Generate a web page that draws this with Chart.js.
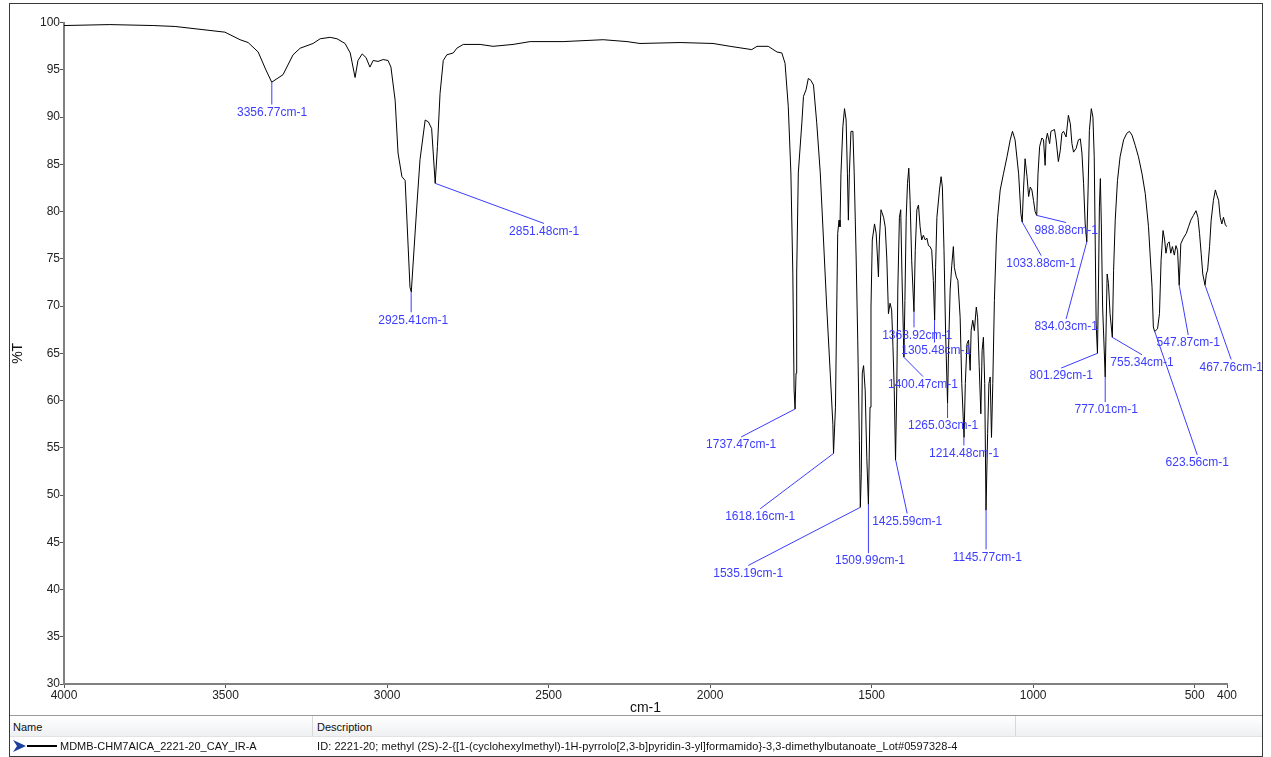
<!DOCTYPE html>
<html>
<head>
<meta charset="utf-8">
<title>IR spectrum</title>
<script src="https://cdn.jsdelivr.net/npm/chart.js@4.4.1/dist/chart.umd.min.js"></script>
<style>
  html, body { margin: 0; padding: 0; background: #fff; }
  body { width: 1271px; height: 757px; position: relative; overflow: hidden; font-family: "Liberation Sans", Arial, sans-serif; }
  #frame { position: absolute; left: 9px; top: 3px; width: 1254px; height: 754px; border: 1px solid #3a3a3a; box-sizing: border-box; }
  #wrap { position: absolute; left: 0; top: 0; width: 1271px; height: 716px; }
  #sep { position: absolute; left: 10px; top: 715px; width: 1252px; height: 1px; background: #9a9a9a; }
  #hdr { position: absolute; left: 10px; top: 716px; width: 1252px; height: 20px; background: linear-gradient(#ffffff, #eef0f2); border-bottom: 1px solid #e2e2e2; }
  .div { position: absolute; top: 716px; width: 1px; height: 20px; background: #d8d8d8; }
  .txt { position: absolute; font-size: 11px; color: #111; white-space: nowrap; line-height: 14px; }
  #line { position: absolute; left: 27px; top: 745px; width: 30px; height: 2px; background: #000; }
  #arrow { position: absolute; left: 13px; top: 740px; }
</style>
</head>
<body>
<div id="wrap"><canvas id="irChart" width="1271" height="716"></canvas></div>
<div id="sep"></div>
<div id="hdr"></div>
<div class="div" style="left:312px"></div>
<div class="div" style="left:1015px"></div>
<div class="txt" style="left:13px; top:720px;">Name</div>
<div class="txt" style="left:317px; top:720px;">Description</div>
<svg id="arrow" width="14" height="12" viewBox="0 0 14 12"><polygon points="0,0 13,6 0,12 4,6" fill="#1d3f9e"/></svg>
<div id="line"></div>
<div class="txt" style="left:60px; top:739px;">MDMB-CHM7AICA_2221-20_CAY_IR-A</div>
<div class="txt" style="left:317px; top:739px; letter-spacing:0.07px;">ID: 2221-20; methyl (2S)-2-{[1-(cyclohexylmethyl)-1H-pyrrolo[2,3-b]pyridin-3-yl]formamido}-3,3-dimethylbutanoate_Lot#0597328-4</div>
<div id="frame"></div>

<script>
// spectrum (cm-1, %T)
const wavenumber = [
  4000, 3858, 3724, 3656, 3579, 3502, 3455, 3430, 3399, 3375,
  3357, 3322, 3291, 3269, 3229, 3207, 3176, 3155, 3130, 3114,
  3099, 3090, 3077, 3065, 3053, 3043, 3028, 3012, 2997, 2988,
  2975, 2966, 2954, 2944, 2929, 2925, 2908, 2898, 2882, 2872,
  2862, 2851, 2844, 2836, 2826, 2815, 2795, 2784, 2764, 2712,
  2672, 2610, 2557, 2455, 2331, 2257, 2217, 2093, 1991, 1938,
  1871, 1855, 1820, 1793, 1778, 1768, 1758, 1750, 1744, 1740,
  1737, 1734, 1732, 1727, 1716, 1711, 1703, 1696, 1688, 1680,
  1670, 1659, 1649, 1639, 1628, 1620, 1618, 1612, 1608, 1605,
  1601, 1598, 1595, 1589, 1584, 1579, 1575, 1572, 1569, 1564,
  1558, 1554, 1548, 1543, 1538, 1535, 1532, 1529, 1525, 1520,
  1515, 1510, 1505, 1502, 1498, 1491, 1486, 1482, 1479, 1476,
  1471, 1463, 1458, 1453, 1448, 1443, 1438, 1434, 1430, 1426,
  1422, 1419, 1414, 1410, 1406, 1400, 1397, 1393, 1389, 1385,
  1381, 1376, 1369, 1365, 1360, 1355, 1350, 1345, 1340, 1334,
  1329, 1324, 1319, 1314, 1309, 1305, 1302, 1298, 1290, 1285,
  1281, 1276, 1271, 1265, 1262, 1257, 1252, 1247, 1244, 1238,
  1233, 1226, 1221, 1214, 1210, 1205, 1200, 1195, 1192, 1187,
  1182, 1176, 1172, 1167, 1162, 1158, 1154, 1150, 1146, 1141,
  1137, 1133, 1129, 1125, 1120, 1114, 1110, 1102, 1092, 1081,
  1071, 1064, 1056, 1045, 1038, 1034, 1030, 1025, 1019, 1014,
  1009, 1004, 999, 994, 989, 985, 980, 973, 968, 963,
  960, 956, 949, 945, 939, 934, 929, 922, 916, 911,
  906, 898, 891, 885, 880, 875, 867, 860, 854, 849,
  844, 839, 834, 830, 826, 820, 815, 811, 808, 805,
  801, 798, 795, 792, 789, 785, 777, 774, 771, 767,
  762, 755, 751, 746, 739, 731, 720, 710, 702, 694,
  684, 674, 663, 653, 643, 632, 628, 624, 615, 609,
  604, 598, 593, 589, 584, 579, 574, 569, 563, 558,
  553, 548, 543, 535, 526, 519, 512, 504, 496, 490,
  485, 480, 475, 468, 464, 460, 454, 449, 442, 436,
  431, 426, 421, 416, 411, 405, 400
];
const transmittance = [
  99.7, 99.8, 99.7, 99.6, 99.3, 99.0, 98.2, 97.9, 96.9, 95.0,
  93.7, 94.5, 96.6, 97.3, 97.8, 98.3, 98.45, 98.3, 97.8, 96.8,
  94.2, 96.0, 96.7, 96.3, 95.3, 96.0, 95.9, 96.1, 96.0, 95.3,
  91.8, 86.2, 83.7, 83.3, 72.0, 71.5, 80.5, 85.5, 89.7, 89.5,
  88.8, 83.0, 86.9, 92.5, 96.0, 96.6, 96.8, 97.3, 97.7, 97.7,
  97.5, 97.7, 98.0, 98.0, 98.2, 98.0, 97.8, 97.9, 97.8, 97.5,
  97.15, 97.5, 97.5, 96.9, 96.8, 95.7, 91.1, 84.1, 73.5, 61.1,
  59.1, 62.9, 73.5, 84.1, 89.4, 92.2, 92.9, 94.1, 93.9, 93.4,
  89.4, 84.1, 77.0, 69.9, 62.8, 57.5, 54.4, 59.3, 69.9, 77.7,
  79.1, 78.4, 84.0, 89.0, 90.9, 89.7, 84.0, 79.1, 84.0, 88.5,
  88.5, 84.1, 75.2, 66.4, 55.8, 48.7, 52.3, 62.9, 63.7, 61.1,
  54.0, 49.0, 59.3, 69.9, 77.0, 78.7, 77.7, 75.2, 73.1, 77.0,
  80.2, 79.4, 78.4, 75.0, 69.2, 70.3, 69.6, 65.7, 61.1, 53.7,
  61.8, 71.7, 79.4, 80.2, 73.1, 64.6, 70.6, 79.4, 83.0, 84.6,
  81.2, 74.8, 69.4, 75.9, 80.2, 80.7, 78.4, 77.0, 77.5, 77.0,
  77.2, 76.4, 76.3, 75.9, 72.7, 68.5, 74.1, 79.4, 82.3, 83.7,
  82.6, 75.9, 67.1, 59.7, 65.3, 71.7, 74.3, 76.3, 74.1, 73.1,
  72.7, 68.8, 61.8, 56.1, 61.8, 66.0, 66.4, 63.2, 67.4, 68.5,
  67.4, 69.9, 68.8, 63.6, 58.6, 65.3, 66.7, 61.8, 48.4, 56.5,
  61.8, 62.5, 56.1, 61.8, 70.6, 77.0, 79.4, 82.3, 84.0, 85.8,
  87.6, 88.5, 87.6, 84.0, 79.8, 78.9, 82.3, 85.6, 83.7, 81.6,
  82.6, 82.3, 81.2, 80.0, 79.6, 84.0, 86.9, 87.8, 87.6, 84.9,
  87.6, 88.3, 87.2, 88.5, 88.6, 88.7, 87.6, 85.3, 86.5, 88.3,
  88.5, 87.9, 90.2, 89.3, 87.2, 86.3, 86.7, 87.6, 87.7, 86.2,
  83.0, 78.7, 76.8, 82.3, 88.6, 90.9, 90.0, 85.8, 77.0, 68.1,
  65.0, 71.7, 80.5, 83.5, 78.7, 69.9, 62.5, 68.1, 73.4, 72.4,
  69.2, 66.7, 73.8, 79.1, 83.3, 85.8, 87.6, 88.3, 88.5, 88.1,
  87.0, 85.8, 84.0, 81.9, 78.4, 72.0, 67.8, 67.3, 67.6, 69.2,
  74.9, 78.0, 77.0, 75.6, 76.6, 76.8, 75.6, 76.3, 75.4, 76.4,
  75.9, 72.2, 76.6, 77.2, 77.7, 78.4, 79.1, 79.6, 80.1, 79.4,
  77.7, 75.6, 73.4, 72.2, 73.4, 73.8, 76.3, 79.1, 81.2, 82.3,
  81.7, 81.2, 79.4, 78.7, 79.4, 78.6, 78.4
];

// picked peaks and where their labels sit (cm-1, %T of the label centre)
const peakWn = [3356.77, 2925.41, 2851.48, 1737.47, 1618.16, 1535.19, 1509.99, 1425.59,
  1400.47, 1368.92, 1305.48, 1265.03, 1214.48, 1145.77, 1033.88, 988.88,
  834.03, 801.29, 777.01, 755.34, 623.56, 547.87, 467.76];
const labelAt = [
  [3356, 90.5], [2919, 68.5], [2514, 77.9], [1904, 55.3], [1845, 47.7], [1882, 41.7],
  [1505, 43.0], [1390, 47.2], [1341, 61.7], [1359, 66.9], [1300, 65.3], [1279, 57.3],
  [1214, 54.4], [1142, 43.4], [975, 74.5], [898, 78.0], [898, 67.8], [913, 62.6],
  [774, 59.0], [663, 64.0], [492, 53.4], [520, 66.1], [387, 63.5]
];

const xTicks = [4000, 3500, 3000, 2500, 2000, 1500, 1000, 500, 400];

const labelBlue = '#3c3cff';
const axisFont = { family: '"Liberation Sans", Arial, sans-serif', size: 12 };

const peakLabels = {
  id: 'peakLabels',
  afterDatasetsDraw(chart) {
    const { ctx, scales: { x, y } } = chart;
    ctx.save();
    ctx.strokeStyle = labelBlue;
    ctx.fillStyle = labelBlue;
    ctx.lineWidth = 1;
    ctx.font = '12px "Liberation Sans", Arial, sans-serif';
    ctx.textAlign = 'center';
    ctx.textBaseline = 'middle';
    peakWn.forEach((w, i) => {
      // nearest point of the trace
      let k = 0;
      wavenumber.forEach((v, j) => { if (Math.abs(v - w) < Math.abs(wavenumber[k] - w)) k = j; });
      const px = x.getPixelForValue(w);
      const py = y.getPixelForValue(transmittance[k]);
      const lx = x.getPixelForValue(labelAt[i][0]);
      const ly = y.getPixelForValue(labelAt[i][1]);
      const ex = Math.abs(lx - px) < 6 ? px : lx;
      ctx.beginPath();
      ctx.moveTo(px, py);
      ctx.lineTo(ex, ly - 8);
      ctx.stroke();
      ctx.fillText(w.toFixed(2) + 'cm-1', lx, ly);
    });
    ctx.restore();
  }
};

new Chart(document.getElementById('irChart'), {
  type: 'line',
  data: {
    datasets: [{
      data: wavenumber.map((w, i) => ({ x: w, y: transmittance[i] })),
      borderColor: '#000',
      borderWidth: 1,
      pointRadius: 0,
      tension: 0,
      fill: false
    }]
  },
  options: {
    responsive: false,
    animation: false,
    layout: { padding: { left: 0, right: 44, top: 22.7, bottom: 0 } },
    plugins: { legend: { display: false }, tooltip: { enabled: false } },
    scales: {
      x: {
        type: 'linear',
        reverse: true,
        min: 400,
        max: 4000,
        afterBuildTicks: s => { s.ticks = xTicks.map(v => ({ value: v })); },
        afterFit: s => { s.height = 32; },
        grid: { drawOnChartArea: false, drawTicks: true, tickLength: 4, color: '#555' },
        border: { color: '#808080', width: 2 },
        ticks: { font: axisFont, color: '#222', padding: 0, maxRotation: 0, autoSkip: false, callback: v => String(v) },
        title: { display: true, text: 'cm-1', color: '#111', font: { family: axisFont.family, size: 14 }, padding: { top: 0, bottom: -1 } }
      },
      y: {
        min: 30,
        max: 100,
        afterFit: s => { s.width = 64; },
        grid: { drawOnChartArea: false, drawTicks: true, tickLength: 4, color: '#555' },
        border: { color: '#808080', width: 2 },
        ticks: { stepSize: 5, font: axisFont, color: '#222', padding: 0, callback: v => String(v) },
        title: { display: true, text: '%T', color: '#111', font: { family: axisFont.family, size: 14 }, padding: { top: 10, bottom: 0 } }
      }
    }
  },
  plugins: [peakLabels]
});
</script>
</body>
</html>
